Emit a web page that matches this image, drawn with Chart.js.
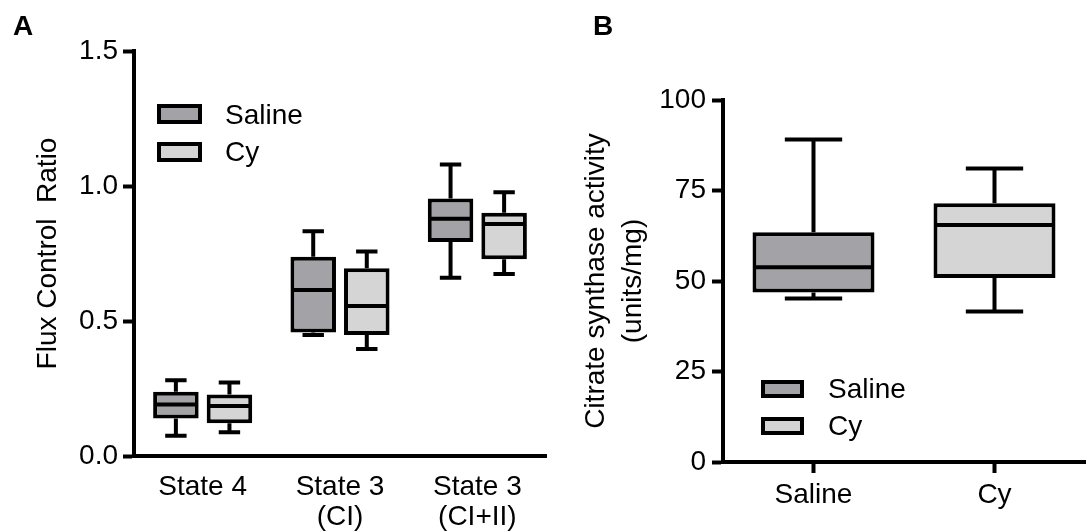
<!DOCTYPE html>
<html>
<head>
<meta charset="utf-8">
<script src="https://cdn.jsdelivr.net/npm/chart.js@4.4.1/dist/chart.umd.min.js"></script>
<style>
  body { margin: 0; background: #fff; font-family: "Liberation Sans", Arial, sans-serif; }
  #wrap { position: relative; width: 1091px; height: 531px; overflow: hidden; }
  .panel { position: absolute; top: 0; height: 531px; }
  .tag { position: absolute; font-weight: bold; font-size: 28px; line-height: 28px; color: #000; }
  .swatch { position: absolute; box-sizing: border-box; border: 4px solid #000; }
  .lbl { position: absolute; font-size: 28px; line-height: 28px; color: #000; white-space: nowrap; }
</style>
</head>
<body>
<div id="wrap">
  <div class="panel" style="left:0;width:560px;"><canvas id="chartA"></canvas></div>
  <div class="panel" style="left:560px;width:531px;"><canvas id="chartB"></canvas></div>

  <div class="tag" style="left:13px;top:12px;">A</div>
  <div class="tag" style="left:593px;top:12px;">B</div>

  <div class="swatch" style="left:157px;top:104px;width:45px;height:20px;background:#a3a2a7;"></div>
  <div class="lbl" style="left:225px;top:101px;">Saline</div>
  <div class="swatch" style="left:157px;top:142px;width:45px;height:20px;background:#d5d5d5;"></div>
  <div class="lbl" style="left:225px;top:138px;">Cy</div>

  <div class="swatch" style="left:761px;top:380px;width:43px;height:18px;background:#a3a2a7;"></div>
  <div class="lbl" style="left:828px;top:375px;">Saline</div>
  <div class="swatch" style="left:761px;top:417px;width:43px;height:18px;background:#d5d5d5;"></div>
  <div class="lbl" style="left:828px;top:412px;">Cy</div>
</div>

<script>
// Panel A: flux control ratios
const categoriesA = [['State 4'], ['State 3', '(CI)'], ['State 3', '(CI+II)']];
const salineMinA = [0.075, 0.448, 0.660];
const salineQ1A  = [0.139, 0.457, 0.793];
const salineMedA = [0.191, 0.615, 0.879];
const salineQ3A  = [0.238, 0.738, 0.954];
const salineMaxA = [0.281, 0.832, 1.080];
const cyMinA = [0.088, 0.396, 0.674];
const cyQ1A  = [0.121, 0.448, 0.729];
const cyMedA = [0.185, 0.556, 0.859];
const cyQ3A  = [0.228, 0.695, 0.901];
const cyMaxA = [0.272, 0.757, 0.977];
const ticksA = [0, 0.5, 1.0, 1.5];

// Panel B: citrate synthase activity
const groupsB = ['Saline', 'Cy'];
const minB = [45.2, 41.6];
const q1B  = [46.8, 50.8];
const medB = [53.8, 65.5];
const q3B  = [63.5, 71.5];
const maxB = [89.1, 81.1];
const ticksB = [0, 25, 50, 75, 100];

const SALINE = '#a3a2a7';
const CY = '#d5d5d5';
const FONT = "'Liberation Sans', Arial, sans-serif";

// whiskers + median lines, drawn from the bar elements and the y scale
const boxExtras = {
    id: 'boxExtras',
    afterDatasetsDraw(chart) {
        const ctx = chart.ctx;
        const y = chart.scales.y;
        ctx.save();
        ctx.strokeStyle = '#000';
        ctx.lineWidth = 4;
        ctx.lineCap = 'butt';
        chart.data.datasets.forEach((ds, i) => {
            const meta = chart.getDatasetMeta(i);
            meta.data.forEach((bar, j) => {
                const x = bar.x;
                const w = bar.width;
                const cap = w * 0.47;
                const pMin = y.getPixelForValue(ds.stats.min[j]);
                const pMax = y.getPixelForValue(ds.stats.max[j]);
                const pMed = y.getPixelForValue(ds.stats.med[j]);
                const pQ1 = y.getPixelForValue(ds.data[j][0]);
                const pQ3 = y.getPixelForValue(ds.data[j][1]);
                ctx.beginPath();
                // upper whisker
                ctx.moveTo(x, pQ3); ctx.lineTo(x, pMax);
                ctx.moveTo(x - cap / 2, pMax); ctx.lineTo(x + cap / 2, pMax);
                // lower whisker
                ctx.moveTo(x, pQ1); ctx.lineTo(x, pMin);
                ctx.moveTo(x - cap / 2, pMin); ctx.lineTo(x + cap / 2, pMin);
                // median
                ctx.moveTo(x - w / 2 + 2, pMed); ctx.lineTo(x + w / 2 - 2, pMed);
                ctx.stroke();
            });
        });
        ctx.restore();
    }
};

const zip = (a, b) => a.map((v, i) => [v, b[i]]);

function yAxis(min, max, step, fmt, title, width, titlePad, tickPad) {
    return {
        min: min, max: max,
        afterFit: s => { s.width = width; },
        ticks: { stepSize: step, color: '#000', padding: tickPad, font: { family: FONT, size: 28 }, callback: fmt },
        grid: { display: true, drawOnChartArea: false, drawTicks: true, tickLength: 11, tickWidth: 4, tickColor: '#000' },
        border: { display: true, width: 4, color: '#000' },
        title: { display: true, text: title, color: '#000', padding: { top: titlePad, bottom: 0 },
                 font: { family: FONT, size: 28, lineHeight: 1.32 } }
    };
}

new Chart(document.getElementById('chartA'), {
    type: 'bar',
    data: {
        labels: categoriesA,
        datasets: [
            { label: 'Saline', data: zip(salineQ1A, salineQ3A), backgroundColor: SALINE,
              stats: { min: salineMinA, med: salineMedA, max: salineMaxA } },
            { label: 'Cy', data: zip(cyQ1A, cyQ3A), backgroundColor: CY,
              stats: { min: cyMinA, med: cyMedA, max: cyMaxA } }
        ].map(d => Object.assign(d, { borderColor: '#000', borderWidth: 4, borderSkipped: false,
                                      categoryPercentage: 0.78, barPercentage: 0.85 }))
    },
    options: {
        responsive: true,
        maintainAspectRatio: false,
        animation: false,
        layout: { padding: { left: 0, right: 14, top: 51, bottom: 0 } },
        plugins: { legend: { display: false }, tooltip: { enabled: false } },
        scales: {
            x: {
                afterFit: s => { s.height = 75; },
                grid: { display: false, drawTicks: false },
                border: { display: true, width: 4, color: '#000' },
                ticks: { color: '#000', padding: 16, maxRotation: 0, autoSkip: false,
                         font: { family: FONT, size: 28, lineHeight: 1.07 } }
            },
            y: yAxis(0, 1.5, 0.5, v => ticksA.includes(v) ? v.toFixed(1) : '', 'Flux Control  Ratio', 134, 30, 5)
        }
    },
    plugins: [boxExtras]
});

new Chart(document.getElementById('chartB'), {
    type: 'bar',
    data: {
        labels: groupsB,
        datasets: [{
            label: 'Citrate synthase', data: zip(q1B, q3B),
            backgroundColor: [SALINE, CY],
            borderColor: '#000', borderWidth: 4, borderSkipped: false,
            categoryPercentage: 1.0, barPercentage: 0.674,
            stats: { min: minB, med: medB, max: maxB }
        }]
    },
    options: {
        responsive: true,
        maintainAspectRatio: false,
        animation: false,
        layout: { padding: { left: 0, right: 6, top: 100, bottom: 0 } },
        plugins: { legend: { display: false }, tooltip: { enabled: false } },
        scales: {
            x: {
                afterFit: s => { s.height = 69; },
                grid: { display: true, offset: false, drawOnChartArea: false, drawTicks: true,
                        tickLength: 11, tickWidth: 4, tickColor: '#000' },
                border: { display: true, width: 4, color: '#000' },
                ticks: { color: '#000', padding: 5, maxRotation: 0, font: { family: FONT, size: 28 } }
            },
            y: yAxis(0, 100, 25, v => ticksB.includes(v) ? String(v) : '',
                     ['Citrate synthase activity', '(units/mg)'], 163, 18, 6)
        }
    },
    plugins: [boxExtras]
});
</script>
</body>
</html>
